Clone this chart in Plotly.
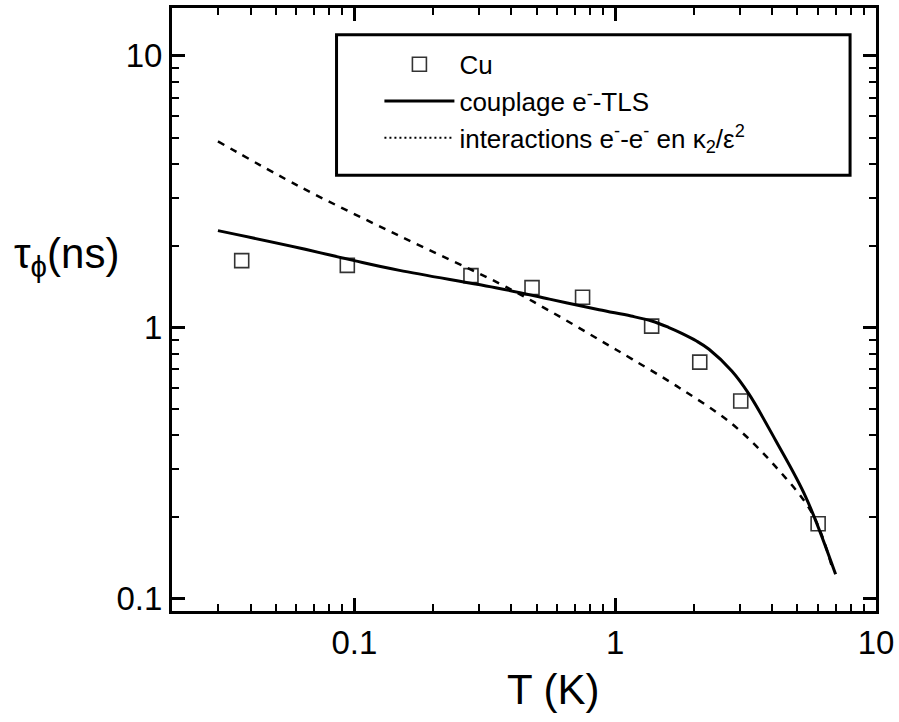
import plotly.graph_objects as go

# Data
T_cu = [0.037, 0.094, 0.28, 0.48, 0.75, 1.38, 2.11, 3.03, 6.0]
tau_cu = [1.76, 1.69, 1.55, 1.40, 1.29, 1.01, 0.744, 0.535, 0.189]

T_tls = [0.03, 0.0616, 0.1, 0.149, 0.36, 0.56, 0.868, 1.15, 1.38, 1.6, 1.8, 2.05, 2.29, 2.8, 3.26, 4.13, 5.38, 7.0]
tau_tls = [2.27, 1.96, 1.76, 1.62, 1.39, 1.27, 1.16, 1.10, 1.055, 1.0, 0.95, 0.89, 0.83, 0.69, 0.567, 0.382, 0.237, 0.123]

T_ee = [0.03, 0.0616, 0.149, 0.36, 0.56, 0.868, 1.165, 1.76, 2.81, 4.13, 5.70, 6.78]
tau_ee = [4.84, 3.30, 2.17, 1.45, 1.15, 0.90, 0.762, 0.599, 0.440, 0.306, 0.206, 0.131]

x_major = [0.1, 1, 10]
x_major_text = ["0.1", "1", "10"]
x_minor = [0.02, 0.03, 0.04, 0.05, 0.06, 0.07, 0.08, 0.09,
           0.2, 0.3, 0.4, 0.5, 0.6, 0.7, 0.8, 0.9,
           2, 3, 4, 5, 6, 7, 8, 9]
y_major = [0.1, 1, 10]
y_major_text = ["0.1", "1", "10"]
y_minor = [0.09, 0.2, 0.3, 0.4, 0.5, 0.6, 0.7, 0.8, 0.9,
           2, 3, 4, 5, 6, 7, 8, 9]

FONT = "Liberation Sans, Arial, sans-serif"

# plot area in pixels (for paper-coordinate placement of legend box / titles)
L, R, T, B = 172, 878, 5, 611
PW, PH = R - L, B - T

fig = go.Figure()
fig.add_trace(go.Scatter(
    x=T_cu, y=tau_cu, mode="markers", name="Cu",
    marker=dict(symbol="square-open", size=14, color="#333333",
                line=dict(width=1.6, color="#333333")),
))
fig.add_trace(go.Scatter(
    x=T_tls, y=tau_tls, mode="lines", name="couplage e<sup>-</sup>-TLS",
    line=dict(color="black", width=3, shape="spline", smoothing=1.0),
))
fig.add_trace(go.Scatter(
    x=T_ee, y=tau_ee, mode="lines", showlegend=False,
    line=dict(color="black", width=2.5, dash="7px,7px", shape="spline", smoothing=1.0),
))
# legend entry with a dotted sample (no data drawn)
fig.add_trace(go.Scatter(
    x=[None], y=[None], mode="lines",
    name="interactions e<sup>-</sup>-e<sup>-</sup> en κ<sub>2</sub>/ε<sup>2</sup>",
    line=dict(color="black", width=2, dash="2px,3px"),
))

axis_common = dict(
    type="log", showline=True, linecolor="black", linewidth=3, mirror="ticks",
    ticks="inside", ticklen=13, tickwidth=2.5, tickcolor="black",
    showgrid=False, zeroline=False,
    tickfont=dict(family=FONT, size=33, color="black"),
)

fig.update_layout(
    width=899, height=722,
    margin=dict(l=L, r=899 - R, t=T, b=722 - B),
    paper_bgcolor="white", plot_bgcolor="white",
    font=dict(family=FONT, color="black"),
    xaxis=dict(
        **axis_common,
        range=[-1.699, 1.0],
        tickmode="array", tickvals=x_major, ticktext=x_major_text,
        minor=dict(tickmode="array", tickvals=x_minor, ticks="inside",
                   ticklen=7, tickwidth=2, tickcolor="black"),
    ),
    yaxis=dict(
        **axis_common,
        range=[-1.045, 1.176],
        tickmode="array", tickvals=y_major, ticktext=y_major_text,
        minor=dict(tickmode="array", tickvals=y_minor, ticks="inside",
                   ticklen=7, tickwidth=2, tickcolor="black"),
    ),
    showlegend=True,
    legend=dict(
        x=(380 - L) / PW, y=1 - (38 - T) / PH, xanchor="left", yanchor="top",
        bgcolor="rgba(0,0,0,0)", borderwidth=0,
        font=dict(family=FONT, size=26, color="black"),
        itemwidth=70,
    ),
    shapes=[dict(
        type="rect", xref="paper", yref="paper",
        x0=(337 - L) / PW, x1=(852 - L) / PW,
        y0=(B - 173) / PH, y1=(B - 32) / PH,
        line=dict(color="black", width=3), fillcolor="rgba(0,0,0,0)", layer="below",
    )],
    annotations=[
        dict(
            text="τ<sub>ϕ</sub>(ns)", xref="paper", yref="paper",
            x=(12 - L) / PW, y=(B - 255) / PH, xanchor="left", yanchor="middle",
            showarrow=False, font=dict(family=FONT, size=42, color="black"),
        ),
        dict(
            text="T (K)", xref="paper", yref="paper",
            x=(555 - L) / PW, y=(B - 690) / PH, xanchor="center", yanchor="middle",
            showarrow=False, font=dict(family=FONT, size=42, color="black"),
        ),
    ],
)

fig.write_html("out.html")
